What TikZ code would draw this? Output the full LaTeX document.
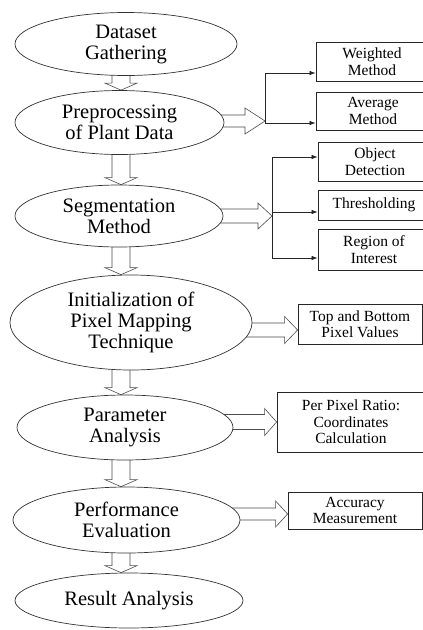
\documentclass[tikz,border=0pt]{standalone}
\usepackage{fontspec}
\setmainfont{Liberation Serif}
\usetikzlibrary{shapes.geometric,calc,arrows.meta}
\pgfdeclarelayer{bg}
\pgfsetlayers{bg,main}
\newcommand\rblock[5]{% #1 from node, #2 tip coordinate, #3 shaft half, #4 head half, #5 head length
  \path[blk] let \p1=(#1.center),\p2=(#2) in
    (\x1,\y2+#3pt) -- (\x2-#5pt,\y2+#3pt) -- (\x2-#5pt,\y2+#4pt) -- (\x2,\y2)
    -- (\x2-#5pt,\y2-#4pt) -- (\x2-#5pt,\y2-#3pt) -- (\x1,\y2-#3pt) -- cycle;}
\newcommand\dblock[2]{% #1 upper node, #2 lower node
  \path[blk] let \p1=(#1.center),\p2=(#2.north) in
    (112pt,\y1) -- (112pt,\y2+7pt) -- (105pt,\y2+7pt) -- (121pt,\y2)
    -- (137pt,\y2+7pt) -- (130pt,\y2+7pt) -- (130pt,\y1) -- cycle;}
\begin{document}
\begin{tikzpicture}[x=1pt,y=-1pt,
  ell/.style={draw=black!80,line width=0.7pt,ellipse,inner sep=0pt,fill=white,
    align=center,font=\fontsize{20.5}{21}\selectfont},
  box/.style={draw=black!85,line width=0.8pt,rectangle,inner sep=0pt,
    align=center,font=\fontsize{15.5}{16.5}\selectfont},
  blk/.style={draw=black!70,line width=0.6pt,fill=white,line join=miter},
  branch/.style={draw=black!85,line width=0.7pt},
  brarrow/.style={draw=black!85,line width=0.7pt,-{Latex[length=6pt,width=4.5pt]}}]
\useasboundingbox (0,0) rectangle (423,630);

% main flow ellipses
\node[ell,minimum width=222pt,minimum height=63pt] (e1) at (126,44) {Dataset\\Gathering};
\node[ell,minimum width=209pt,minimum height=64pt] (e2) at (119.5,122.5) {Preprocessing\\of Plant Data};
\node[ell,minimum width=208pt,minimum height=62pt] (e3) at (119,216) {Segmentation\\Method};
\node[ell,minimum width=242pt,minimum height=95pt] (e4) at (131,322.5) {Initialization of\\Pixel Mapping\\Technique};
\node[ell,minimum width=216pt,minimum height=65pt] (e5) at (125,427.5) {Parameter\\Analysis};
\node[ell,minimum width=227pt,minimum height=66pt] (e6) at (126.5,520) {Performance\\Evaluation};
\node[ell,minimum width=228pt,minimum height=55pt] (e7) at (129,600.5) {Result Analysis};

% side boxes
\node[box,minimum width=112pt,minimum height=39pt] (b1) at (372,61.5) {Weighted\\Method};
\node[box,minimum width=114pt,minimum height=38pt] (b2) at (373,111) {Average\\Method};
\node[box,minimum width=114pt,minimum height=39pt] (b3) at (375,161.5) {Object\\Detection};
\node[box,minimum width=112pt,minimum height=30pt] (b4) at (374,205) {Thresholding};
\node[box,minimum width=112pt,minimum height=41pt] (b5) at (374,249.5) {Region of\\Interest};
\node[box,minimum width=124pt,minimum height=40pt] (b6) at (360,324) {Top and Bottom\\Pixel Values};
\node[box,minimum width=148pt,minimum height=60pt] (b7) at (351,422) {Per Pixel Ratio:\\Coordinates\\Calculation};
\node[box,minimum width=134pt,minimum height=37pt] (b8) at (355,510.5) {Accuracy\\Measurement};

% branch points
\coordinate (j2) at (265,121);
\coordinate (j2a) at (265,73);
\coordinate (j2b) at (265,123);
\coordinate (j3) at (272,216);
\coordinate (j3a) at (272,157);
\coordinate (j3b) at (272,212);
\coordinate (j3c) at (272,258);
\coordinate (t4) at (b6.west |- 0,330);
\coordinate (t5) at (b7.west |- 0,422);
\coordinate (t6) at (b8.west |- 0,514);

\begin{pgfonlayer}{bg}
  \dblock{e1}{e2}
  \dblock{e2}{e3}
  \dblock{e3}{e4}
  \dblock{e4}{e5}
  \dblock{e5}{e6}
  \dblock{e6}{e7}
  \rblock{e2}{j2}{6}{13}{20}
  \rblock{e3}{j3}{7}{13}{14}
  \rblock{e4}{t4}{7}{13.5}{13}
  \rblock{e5}{t5}{7.5}{13.5}{12}
  \rblock{e6}{t6}{6}{13}{12}
\end{pgfonlayer}

% branch connectors
\draw[branch] (j2a) -- (j2b);
\draw[brarrow] (j2a) -- (j2a -| b1.west);
\draw[brarrow] (j2b) -- (j2b -| b2.west);
\draw[branch] (j3a) -- (j3c);
\draw[brarrow] (j3a) -- (j3a -| b3.west);
\draw[brarrow] (j3b) -- (j3b -| b4.west);
\draw[brarrow] (j3c) -- (j3c -| b5.west);
\end{tikzpicture}
\end{document}
